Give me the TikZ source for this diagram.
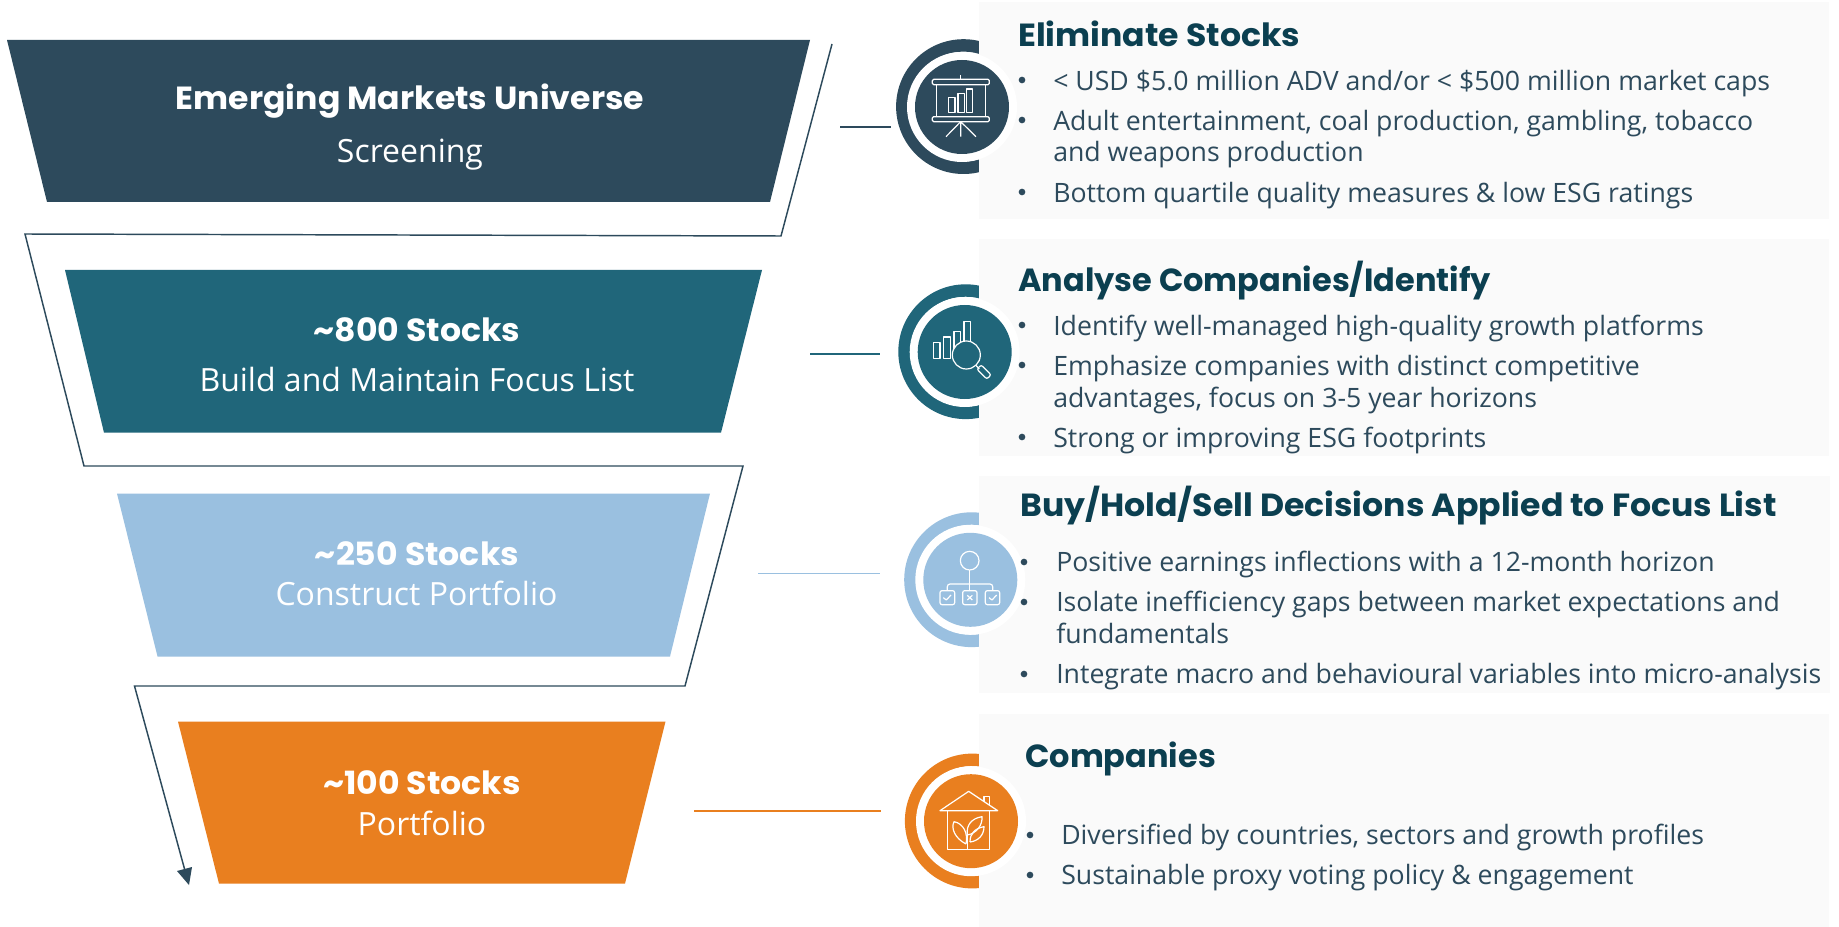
\documentclass[tikz,border=0pt]{standalone}
\usepackage{fontspec}
\setmainfont{Open Sans}
\newfontfamily\headf[FakeStretch=1.035]{Poppins}
\newfontfamily\headn{Poppins}
\definecolor{navy}{HTML}{2D4A5C}
\definecolor{teal}{HTML}{20667A}
\definecolor{sky}{HTML}{9AC0E0}
\definecolor{amber}{HTML}{E97F1F}
\definecolor{paneltone}{HTML}{FAFAFA}
\definecolor{titletone}{HTML}{0B3F50}
\tikzset{
  stagehead/.style={anchor=base,text=white,font=\headf\bfseries\fontsize{24}{28}\selectfont,inner sep=0pt},
  stagesub/.style={anchor=base,text=white,font=\fontsize{24}{28}\selectfont,inner sep=0pt},
  paneltitle/.style={anchor=base west,text=titletone,font=\headf\bfseries\fontsize{24}{28}\selectfont,inner sep=0pt},
  paneltitlen/.style={anchor=base west,text=titletone,font=\headn\bfseries\fontsize{24}{28}\selectfont,inner sep=0pt},
  bodyline/.style={anchor=base west,text=navy,font=\fontsize{20}{24}\selectfont,inner sep=0pt},
  bulletdot/.style={circle,fill=navy,minimum size=5pt,inner sep=0pt},
  flow/.style={draw=navy,line width=1.1pt,line join=miter},
  icon/.style={draw=white,line width=0.9pt,line join=round},
}
\newcommand{\ringcircle}[3]{% x y colour
  \fill[#3,even odd rule] (#1,#2) circle[radius=67.4] (#1,#2) circle[radius=55];
}
\newcommand{\corecircle}[3]{%
  \fill[white] (#1,#2) circle[radius=55];
  \fill[#3] (#1,#2) circle[radius=47];
}
\begin{document}
\begin{tikzpicture}[x=0.75pt,y=-0.75pt]
\useasboundingbox (0,0) rectangle (1839,927);
\fill[white] (0,0) rectangle (1839,927);
% rings
\ringcircle{963.5}{106.6}{navy}
\ringcircle{965.7}{351.7}{teal}
\ringcircle{971.6}{579.7}{sky}
\ringcircle{972.3}{821}{amber}
% panels
\fill[paneltone] (979,2) rectangle (1829,219);
\fill[paneltone] (979,239) rectangle (1829,456);
\fill[paneltone] (979,476) rectangle (1830,693);
\fill[paneltone] (979,714) rectangle (1829,927);
\corecircle{962}{107}{navy}
\corecircle{964.7}{352}{teal}
\corecircle{970.3}{579.8}{sky}
\corecircle{971}{821.2}{amber}
% trapezoids
\fill[navy] (7,40) -- (810,40) -- (770,202) -- (47,202) -- cycle;
\fill[teal] (65,270) -- (762,270) -- (721,432.7) -- (104,432.7) -- cycle;
\fill[sky] (117,493.5) -- (710,493.5) -- (670,656.5) -- (157.5,656.5) -- cycle;
\fill[amber] (178,721.6) -- (665.5,721.6) -- (625,883.6) -- (219,883.6) -- cycle;
% flow line
\coordinate (f0) at (832,44);
\coordinate (f1) at (781,236);
\coordinate (f2) at (25,234);
\coordinate (f3) at (84,466);
\coordinate (f4) at (743,466);
\coordinate (f5) at (685,686);
\coordinate (f6) at (134.5,686);
\coordinate (f7) at (187,878);
\coordinate (ftip) at (189,885);
\coordinate (fwa) at (177,871);
\coordinate (fwb) at (192,867);
\draw[flow] (f0) -- (f1) -- (f2) -- (f3) -- (f4) -- (f5) -- (f6) -- (f7);
\fill[navy] (ftip) -- (fwa) -- (fwb) -- cycle;
% leaders
\coordinate (la) at (840,127); \coordinate (lb) at (891,127);
\coordinate (lc) at (810,354); \coordinate (ld) at (880,354);
\coordinate (le) at (758,573.5); \coordinate (lf) at (880,573.5);
\coordinate (lg) at (694,811); \coordinate (lh) at (881,811);
\draw[navy,line width=1.2pt] (la) -- (lb);
\draw[teal,line width=1.2pt] (lc) -- (ld);
\draw[sky,line width=1.4pt] (le) -- (lf);
\draw[amber,line width=1.4pt] (lg) -- (lh);
% stage labels
\node[stagehead] (h1) at (410,109.5) {Emerging Markets Universe};
\node[stagesub] (s1) at (410,162.5) {Screening};
\node[stagehead] (h2) at (417,342) {\textasciitilde800 Stocks};
\node[stagesub] (s2) at (417,392) {Build and Maintain Focus List};
\node[stagehead] (h3) at (417,565) {\textasciitilde250 Stocks};
\node[stagesub] (s3) at (416.5,605.5) {Construct Portfolio};
\node[stagehead] (h4) at (422,794) {\textasciitilde100 Stocks};
\node[stagesub] (s4) at (422,835) {Portfolio};
% panel 1
\node[paneltitle] (t1) at (1018,47) {Eliminate Stocks};
\node[bulletdot] (b11) at (1022,80) {};
\node[bodyline] (p11) at (1053,90.5) {< USD \$5.0 million ADV and/or < \$500 million market caps};
\node[bulletdot] (b12) at (1022,120) {};
\node[bodyline] (p12) at (1053,130.5) {Adult entertainment, coal production, gambling, tobacco};
\node[bodyline] (p13) at (1053,162) {and weapons production};
\node[bulletdot] (b13) at (1022,192) {};
\node[bodyline] (p14) at (1053,202.5) {Bottom quartile quality measures \& low ESG ratings};
% panel 2
\node[paneltitlen] (t2) at (1018,292) {Analyse Companies/Identify};
\node[bulletdot] (b21) at (1022,325) {};
\node[bodyline] (p21) at (1053,335) {Identify well-managed high-quality growth platforms};
\node[bulletdot] (b22) at (1022,365) {};
\node[bodyline] (p22) at (1053,375) {Emphasize companies with distinct competitive};
\node[bodyline] (p23) at (1053,407) {advantages, focus on 3-5 year horizons};
\node[bulletdot] (b23) at (1022,437) {};
\node[bodyline] (p24) at (1053,447) {Strong or improving ESG footprints};
% panel 3
\node[paneltitle] (t3) at (1020,516) {Buy/Hold/Sell Decisions Applied to Focus List};
\node[bulletdot] (b31) at (1024,562) {};
\node[bodyline] (p31) at (1056,571.5) {Positive earnings inflections with a 12-month horizon};
\node[bulletdot] (b32) at (1024,602) {};
\node[bodyline] (p32) at (1056,611.5) {Isolate inefficiency gaps between market expectations and};
\node[bodyline] (p33) at (1056,643.5) {fundamentals};
\node[bulletdot] (b33) at (1024,674) {};
\node[bodyline] (p34) at (1056,683.5) {Integrate macro and behavioural variables into micro-analysis};
% panel 4
\node[paneltitlen] (t4) at (1025,767) {Companies};
\node[bulletdot] (b41) at (1030,835) {};
\node[bodyline] (p41) at (1061,844) {Diversified by countries, sectors and growth profiles};
\node[bulletdot] (b42) at (1030,875) {};
\node[bodyline] (p42) at (1061,884) {Sustainable proxy voting policy \& engagement};
% icon 1
\begin{scope}[shift={(860,20)},x=0.25pt,y=-0.25pt]
\draw[icon,rounded corners=1pt] (217,178) rectangle (388,194);
\draw[icon,rounded corners=1pt] (217,290) rectangle (388,305);
\draw[icon] (302,165) -- (302,178);
\draw[icon] (229,194) -- (229,290) (376,194) -- (376,290);
\draw[icon] (266,232) rectangle (285,277);
\draw[icon] (294,220) rectangle (313,277);
\draw[icon] (320,207) rectangle (338,277);
\draw[icon] (302,305) -- (258,350) (302,305) -- (302,350) (302,305) -- (348,350);
\end{scope}
% icon 2
\begin{scope}[shift={(860,270)},x=0.25pt,y=-0.25pt]
\draw[icon] (221,217) rectangle (240,265);
\draw[icon] (251,201) rectangle (272,265);
\draw[icon] (282,184) rectangle (302,240);
\draw[icon] (312,154) rectangle (331,225);
\draw[icon,fill=teal] (319,255) circle[radius=42];
\draw[icon] (347,285) -- (358,297);
\draw[icon,rounded corners=1.5pt,rotate around={-45:(372,306)}] (351,297) rectangle (393,315);
\end{scope}
% icon 3
\begin{scope}[shift={(860,500)},x=0.25pt,y=-0.25pt]
\draw[icon] (329,182) circle[radius=28];
\draw[icon] (329,210) -- (329,272);
\draw[icon,rounded corners=2pt] (262,272) -- (262,252) -- (398,252) -- (398,272);
\draw[icon,rounded corners=1.5pt] (240,272) rectangle (284,314);
\draw[icon,rounded corners=1.5pt] (308,272) rectangle (351,314);
\draw[icon,rounded corners=1.5pt] (376,272) rectangle (419,314);
\draw[icon] (250,293) -- (259,300) -- (273,285);
\draw[icon] (322,286) -- (337,300) (337,286) -- (322,300);
\draw[icon] (387,293) -- (396,300) -- (410,285);
\end{scope}
% icon 4
\begin{scope}[shift={(860,740)},x=0.25pt,y=-0.25pt]
\draw[icon] (240,212) -- (326,154) -- (413,212) -- cycle;
\draw[icon] (372,186) -- (372,170) -- (389,170) -- (389,198);
\draw[icon] (263,212) -- (263,328) -- (389,328) -- (389,212);
\draw[icon] (322,328) -- (322,270);
\draw[icon] (318,312) .. controls (285,295) and (272,265) .. (282,245) .. controls (310,250) and (325,280) .. (318,312);
\draw[icon] (322,285) .. controls (318,255) and (335,235) .. (366,230) .. controls (368,255) and (350,280) .. (322,285);
\draw[icon] (330,306) .. controls (330,280) and (345,265) .. (372,260) .. controls (372,285) and (355,303) .. (330,306);
\end{scope}
\end{tikzpicture}
\end{document}
